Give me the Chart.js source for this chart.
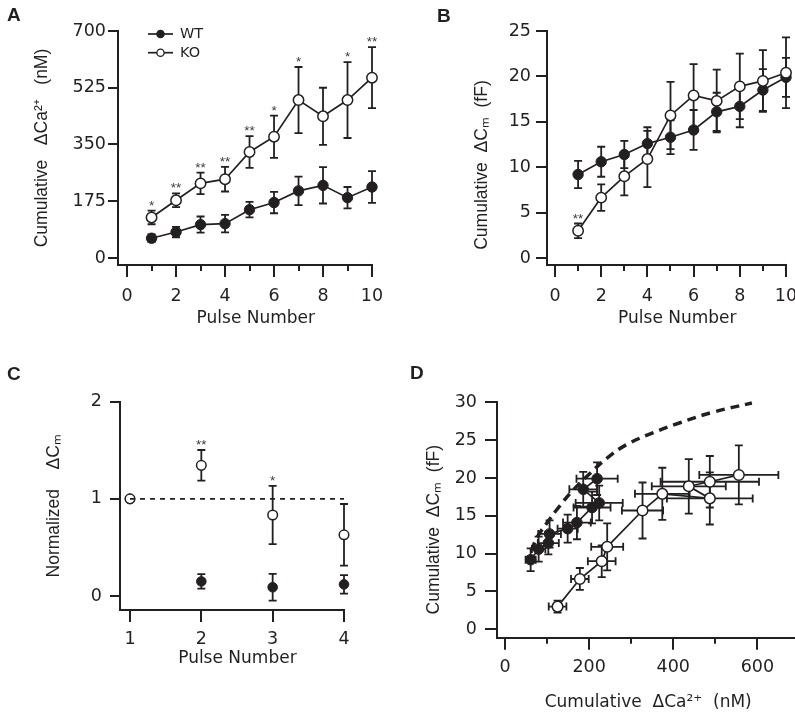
<!DOCTYPE html>
<html><head><meta charset="utf-8">
<script src="https://cdn.jsdelivr.net/npm/chart.js@4.4.1/dist/chart.umd.min.js"></script>
<style>
html,body{margin:0;padding:0;background:#fff;overflow:hidden;width:795px;height:714px;position:relative;}
canvas{position:absolute;}
</style></head><body>
<canvas id="cA" width="400" height="335" style="left:0px;top:0px"></canvas>
<canvas id="cB" width="430" height="335" style="left:400px;top:0px"></canvas>
<canvas id="cC" width="400" height="379" style="left:0px;top:335px"></canvas>
<canvas id="cD" width="430" height="379" style="left:400px;top:335px"></canvas>
<script>
// ---------------- data ----------------
const pulses = [1, 2, 3, 4, 5, 6, 7, 8, 9, 10];
// Panel A: cumulative ΔCa2+ (nM)
const caWT    = [61, 80, 103, 106, 149, 171, 207, 224, 186, 219];
const caWTerr = [12, 16, 25, 27, 24, 33, 44, 56, 33, 49];
const caKO    = [125, 178, 230, 243, 327, 374, 487, 437, 487, 556];
const caKOerr = [21, 21, 33, 38, 49, 65, 102, 88, 117, 94];
const caSig   = ['*', '**', '**', '**', '**', '*', '*', '', '*', '**'];
// Panel B: cumulative ΔCm (fF)
const cmWT    = [9.2, 10.6, 11.4, 12.6, 13.3, 14.1, 16.1, 16.7, 18.5, 19.9];
const cmWTerr = [1.5, 1.65, 1.5, 1.8, 1.85, 2.2, 2.1, 2.3, 2.3, 2.15];
const cmKO    = [3.0, 6.65, 9.0, 10.9, 15.7, 17.9, 17.3, 18.9, 19.5, 20.4];
const cmKOerr = [0.8, 1.45, 2.1, 3.1, 3.7, 3.45, 3.45, 3.6, 3.4, 3.9];
const cmSig   = ['**', '', '', '', '', '', '', '', '', ''];
// Panel C: normalized ΔCm
const normPulses = [1, 2, 3, 4];
const normWT     = [1, 0.15, 0.09, 0.12];
const normWTerr  = [0, 0.075, 0.137, 0.095];
const normKO     = [1, 1.345, 0.834, 0.63];
const normKOerr  = [0, 0.158, 0.30, 0.317];
const normSig    = ['', '**', '*', ''];
const refX = [1, 4];
const refY = [1, 1];
// Panel D: dashed fit curve
const fitCa = [62, 79, 99, 123, 162, 202, 242, 289, 353, 416, 495, 587];
const fitCm = [10.4, 12.4, 14.0, 15.8, 18.4, 20.6, 22.6, 24.4, 26.0, 27.3, 28.7, 29.9];
// tick labels
const aXTicks = [0, 2, 4, 6, 8, 10], aXMinor = [1, 3, 5, 7, 9];
const aYTicks = [0, 175, 350, 525, 700];
const bYTicks = [0, 5, 10, 15, 20, 25];
const cXTicks = [1, 2, 3, 4], cYTicks = [0, 1, 2];
const dXTicks = [0, 200, 400, 600], dXMinor = [100, 300, 500];
const dYTicks = [0, 5, 10, 15, 20, 25, 30];

// ---------------- styling helpers ----------------
const INK = '#231f20';
const TICK_FONT = {family: "'DejaVu Sans', sans-serif", size: 17.5};
const XTITLE_FONT = {family: "'DejaVu Sans', sans-serif", size: 17};
const YTITLE_FONT = {family: "'Liberation Sans', Arial, sans-serif", size: 17.5};

const pts = (xs, ys) => xs.map((x, i) => ({x: x, y: ys[i]}));
const setTicks = vals => scale => { scale.ticks = vals.map(v => ({value: v})); };

function xScales(o) {
  const s = {
    x: {
      type: 'linear', position: 'bottom', min: o.min, max: o.max, weight: 1,
      afterBuildTicks: setTicks(o.ticks),
      afterFit: sc => { sc.height = o.height; },
      border: {display: true, color: INK, width: 2},
      grid: {display: true, drawOnChartArea: false, drawTicks: true, tickLength: 12, tickWidth: 2, tickColor: INK, lineWidth: 2, color: INK},
      ticks: {autoSkip: false, maxRotation: 0, padding: o.pad, color: INK, font: TICK_FONT},
      title: {display: true, text: o.title, color: INK, font: XTITLE_FONT, padding: {top: 0, bottom: o.titlePad}}
    }
  };
  if (o.minor) {
    s.xMinor = {
      type: 'linear', position: 'bottom', min: o.min, max: o.max, weight: 0,
      afterBuildTicks: setTicks(o.minor),
      afterFit: sc => { sc.height = 0; },
      border: {display: false},
      grid: {display: true, drawOnChartArea: false, drawTicks: true, tickLength: 6, tickWidth: 2, tickColor: INK, lineWidth: 2, color: INK},
      ticks: {display: false}
    };
  }
  return s;
}
function yScale(o) {
  return {
    y: {
      type: 'linear', position: 'left', min: o.min, max: o.max,
      afterBuildTicks: setTicks(o.ticks),
      afterFit: sc => { sc.width = o.width; },
      border: {display: true, color: INK, width: 2},
      grid: {display: true, drawOnChartArea: false, drawTicks: true, tickLength: o.tickLen, tickWidth: 2, tickColor: INK, lineWidth: 2, color: INK},
      ticks: {autoSkip: false, padding: o.pad, color: INK, font: TICK_FONT},
      title: {display: true, text: o.title, color: INK, font: YTITLE_FONT, padding: {top: o.titlePad, bottom: 0}}
    }
  };
}
function wtSet(xs, ys, o) {
  return Object.assign({
    label: 'WT', data: pts(xs, ys), borderColor: INK, backgroundColor: INK,
    pointBackgroundColor: INK, pointBorderColor: INK, pointBorderWidth: 1,
    pointRadius: o.r, borderWidth: 1.7, showLine: o.line !== false, clip: false, tension: 0
  }, o.extra || {});
}
function koSet(xs, ys, o) {
  return Object.assign({
    label: 'KO', data: pts(xs, ys), borderColor: INK, backgroundColor: '#ffffff',
    pointBackgroundColor: '#ffffff', pointBorderColor: INK, pointBorderWidth: 1.5,
    pointRadius: o.r, borderWidth: 1.7, showLine: o.line !== false, clip: false, tension: 0
  }, o.extra || {});
}

// ---------------- plugins ----------------
const errorBars = {
  id: 'errorBars',
  beforeDatasetsDraw(chart) {
    const ctx = chart.ctx;
    chart.data.datasets.forEach((ds, di) => {
      if (!ds.errorY && !ds.errorX) return;
      const meta = chart.getDatasetMeta(di);
      const xs = chart.scales[meta.xAxisID], ys = chart.scales[meta.yAxisID];
      const cap = 4;
      ctx.save();
      ctx.strokeStyle = INK; ctx.lineWidth = 1.8; ctx.lineCap = 'butt';
      meta.data.forEach((pt, j) => {
        const raw = ds.data[j];
        const px = xs.getPixelForValue(raw.x), py = ys.getPixelForValue(raw.y);
        ctx.beginPath();
        if (ds.errorY && ds.errorY[j]) {
          const y1 = ys.getPixelForValue(raw.y - ds.errorY[j]);
          const y2 = ys.getPixelForValue(raw.y + ds.errorY[j]);
          ctx.moveTo(px, y1); ctx.lineTo(px, y2);
          ctx.moveTo(px - cap, y1); ctx.lineTo(px + cap, y1);
          ctx.moveTo(px - cap, y2); ctx.lineTo(px + cap, y2);
        }
        if (ds.errorX && ds.errorX[j]) {
          const x1 = xs.getPixelForValue(raw.x - ds.errorX[j]);
          const x2 = xs.getPixelForValue(raw.x + ds.errorX[j]);
          ctx.moveTo(x1, py); ctx.lineTo(x2, py);
          ctx.moveTo(x1, py - cap); ctx.lineTo(x1, py + cap);
          ctx.moveTo(x2, py - cap); ctx.lineTo(x2, py + cap);
        }
        ctx.stroke();
      });
      ctx.restore();
    });
  }
};
const sigMarks = {
  id: 'sigMarks',
  afterDatasetsDraw(chart) {
    const ctx = chart.ctx;
    chart.data.datasets.forEach((ds, di) => {
      if (!ds.sig) return;
      const meta = chart.getDatasetMeta(di);
      const xs = chart.scales[meta.xAxisID], ys = chart.scales[meta.yAxisID];
      ctx.save();
      ctx.fillStyle = '#3a3a3a';
      ctx.font = "13.5px 'Liberation Sans', Arial, sans-serif";
      ctx.textAlign = 'center'; ctx.textBaseline = 'alphabetic';
      ds.sig.forEach((s, j) => {
        if (!s) return;
        const raw = ds.data[j];
        const e = ds.errorY ? ds.errorY[j] : 0;
        ctx.fillText(s, xs.getPixelForValue(raw.x), ys.getPixelForValue(raw.y + e) - 1);
      });
      ctx.restore();
    });
  }
};
const panelLabel = {
  id: 'panelLabel',
  afterDraw(chart, args, opts) {
    if (!opts || !opts.text) return;
    const ctx = chart.ctx;
    ctx.save();
    ctx.fillStyle = INK;
    ctx.font = "bold 19px 'Liberation Sans', Arial, sans-serif";
    ctx.textAlign = 'left'; ctx.textBaseline = 'alphabetic';
    ctx.fillText(opts.text, opts.x, opts.y);
    ctx.restore();
  }
};
const seriesKey = {
  id: 'seriesKey',
  afterDraw(chart, args, opts) {
    const ctx = chart.ctx;
    const order = ['WT', 'KO'];
    ctx.save();
    order.forEach((name, k) => {
      const ds = chart.data.datasets.find(d => d.label === name);
      if (!ds) return;
      const y = opts.y + k * opts.dy;
      ctx.strokeStyle = ds.borderColor; ctx.lineWidth = 1.7;
      ctx.beginPath(); ctx.moveTo(opts.x, y); ctx.lineTo(opts.x + 25, y); ctx.stroke();
      ctx.beginPath(); ctx.arc(opts.x + 12.5, y, 3.6, 0, Math.PI * 2);
      ctx.fillStyle = ds.pointBackgroundColor; ctx.fill();
      ctx.lineWidth = 1.3; ctx.strokeStyle = ds.pointBorderColor; ctx.stroke();
      ctx.fillStyle = INK;
      ctx.font = "14.5px 'DejaVu Sans', sans-serif";
      ctx.textAlign = 'left'; ctx.textBaseline = 'middle';
      ctx.fillText(name, opts.x + 32, y + 0.5);
    });
    ctx.restore();
  }
};

const baseOpts = (padding, scales, plugins) => ({
  responsive: false, animation: false, devicePixelRatio: 1, events: [],
  layout: {padding: padding},
  scales: scales,
  plugins: Object.assign({legend: {display: false}, tooltip: {enabled: false}}, plugins)
});

// ---------------- Panel A ----------------
new Chart(document.getElementById('cA'), {
  type: 'line',
  data: {datasets: [
    koSet(pulses, caKO, {r: 5.2, extra: {errorY: caKOerr, sig: caSig}}),
    wtSet(pulses, caWT, {r: 5.2, extra: {errorY: caWTerr}})
  ]},
  options: baseOpts({left: 0, top: 31, right: 28, bottom: 0},
    Object.assign(
      xScales({min: -0.37, max: 10, ticks: aXTicks, minor: aXMinor, height: 70, pad: 9, title: '    Pulse Number', titlePad: 6.3}),
      yScale({min: -21.6, max: 700, ticks: aYTicks, width: 118, tickLen: 10, pad: 2, title: 'Cumulative   ΔCa²⁺   (nM)', titlePad: 32})
    ),
    {panelLabel: {text: 'A', x: 7, y: 21}, seriesKey: {x: 148, y: 34, dy: 18.7}}),
  plugins: [errorBars, sigMarks, panelLabel, seriesKey]
});

// ---------------- Panel B ----------------
new Chart(document.getElementById('cB'), {
  type: 'line',
  data: {datasets: [
    koSet(pulses, cmKO, {r: 5.2, extra: {errorY: cmKOerr, sig: cmSig}}),
    wtSet(pulses, cmWT, {r: 5.2, extra: {errorY: cmWTerr}})
  ]},
  options: baseOpts({left: 0, top: 31, right: 44, bottom: 0},
    Object.assign(
      xScales({min: -0.346, max: 10, ticks: aXTicks, minor: aXMinor, height: 70, pad: 9, title: '    Pulse Number', titlePad: 6.3}),
      yScale({min: -0.77, max: 25, ticks: bYTicks, width: 147, tickLen: 11, pad: 5, title: 'Cumulative  ΔCₘ  (fF)       ', titlePad: 72})
    ),
    {panelLabel: {text: 'B', x: 37, y: 22}}),
  plugins: [errorBars, sigMarks, panelLabel]
});

// ---------------- Panel C ----------------
new Chart(document.getElementById('cC'), {
  type: 'line',
  data: {datasets: [
    {label: 'ref', data: pts(refX, refY), borderColor: INK, borderWidth: 1.6, borderDash: [5, 5],
     pointRadius: 0, showLine: true, clip: false, fill: false},
    koSet(normPulses, normKO, {r: 4.8, line: false, extra: {errorY: normKOerr, sig: normSig}}),
    wtSet(normPulses, normWT, {r: 4.8, line: false, extra: {errorY: normWTerr}})
  ]},
  options: baseOpts({left: 0, top: 66.7, right: 56, bottom: 0},
    Object.assign(
      xScales({min: 0.86, max: 4, ticks: cXTicks, height: 104, pad: 7, title: '  Pulse Number', titlePad: 45.3}),
      yScale({min: -0.144, max: 2, ticks: cYTicks, width: 120, tickLen: 10, pad: 8, title: 'Normalized    ΔCₘ', titlePad: 44})
    ),
    {panelLabel: {text: 'C', x: 7, y: 45}}),
  plugins: [errorBars, sigMarks, panelLabel]
});

// ---------------- Panel D ----------------
new Chart(document.getElementById('cD'), {
  type: 'line',
  data: {datasets: [
    koSet(caKO, cmKO, {r: 5.3, extra: {errorY: cmKOerr, errorX: caKOerr}}),
    wtSet(caWT, cmWT, {r: 5.3, extra: {errorY: cmWTerr, errorX: caWTerr}}),
    {label: 'fit', data: pts(fitCa, fitCm), borderColor: INK, borderWidth: 3.5, borderDash: [9, 6],
     pointRadius: 0, showLine: true, clip: false, fill: false, tension: 0.4}
  ]},
  options: baseOpts({left: 0, top: 67.3, right: 30.6, bottom: 0},
    Object.assign(
      xScales({min: -19, max: 700, ticks: dXTicks, minor: dXMinor, height: 76.3, pad: 7.6, title: 'Cumulative  ΔCa²⁺  (nM)', titlePad: 1}),
      yScale({min: -1.11, max: 30, ticks: dYTicks, width: 97, tickLen: 12, pad: 8, title: 'Cumulative  ΔCₘ  (fF)    ', titlePad: 24})
    ),
    {panelLabel: {text: 'D', x: 10, y: 44}}),
  plugins: [errorBars, sigMarks, panelLabel]
});
</script>
</body></html>
